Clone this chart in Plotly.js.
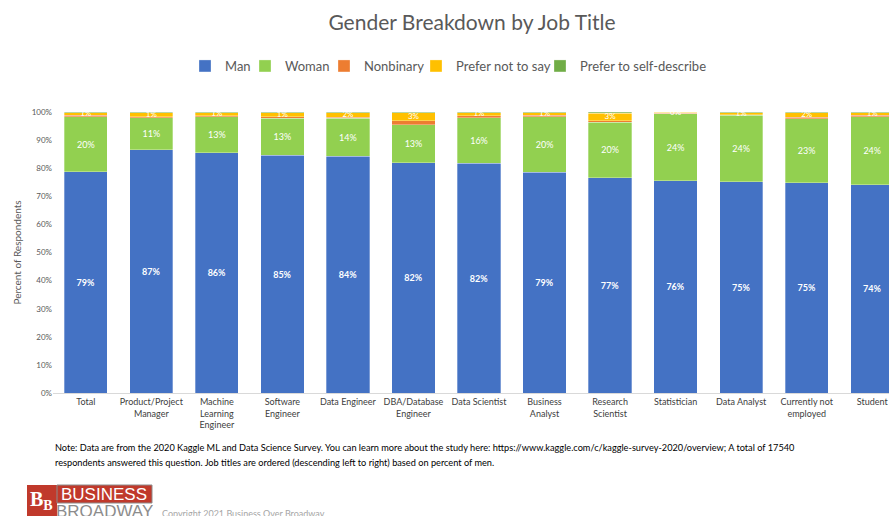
<!DOCTYPE html>
<html><head><meta charset="utf-8">
<script src="https://cdn.plot.ly/plotly-3.0.1.min.js"></script>
<style>html,body{margin:0;padding:0;overflow:hidden;background:#fff;width:889px;height:516px}</style>
</head><body>
<div id="chart"></div>
<script>
const categories = ["Total","Product/Project<br>Manager","Machine<br>Learning<br>Engineer","Software<br>Engineer","Data Engineer","DBA/Database<br>Engineer","Data Scientist","Business<br>Analyst","Research<br>Scientist","Statistician","Data Analyst","Currently not<br>employed","Student"];
const man        = [78.8, 86.6, 85.5, 84.6, 84.2, 82.0, 81.7, 78.6, 76.6, 75.6, 75.2, 74.8, 74.2];
const woman      = [19.5, 11.3, 12.8, 13.2, 13.6, 13.4, 16.3, 19.7, 19.8, 23.7, 23.6, 22.8, 24.1];
const nonbinary  = [0.5, 0.5, 0.4, 0.6, 0.3, 1.5, 0.6, 0.5, 0.5, 0.2, 0.3, 0.5, 0.5];
const preferNot  = [1.0, 1.3, 1.1, 1.3, 1.7, 2.8, 1.2, 1.0, 2.6, 0.4, 0.7, 1.6, 0.9];
const selfDesc   = [0.2, 0.3, 0.2, 0.3, 0.2, 0.3, 0.2, 0.2, 0.5, 0.1, 0.2, 0.3, 0.3];
const seriesNames = ["Man","Woman","Nonbinary","Prefer not to say","Prefer to self-describe"];
const colors = ["#4472C4","#92D050","#ED7D31","#FFC000","#70AD47"];
const legendWidths = [15, 34, 47, 79, 150];

const FONT = "Lato, 'Open Sans', sans-serif";
const pct = v => Math.round(v) + '%';
function bar(i, vals, showText, size){
  const name = seriesNames[i];
  const t = {
    type:'bar', name:name, x:categories, y:vals,
    marker:{color:colors[i], line:{color:'rgba(255,255,255,0.6)', width:0.5}},
    width:0.66, legendwidth:legendWidths[i],
    hoverinfo:'y+name'
  };
  if(showText){
    t.text = vals.map(pct);
    t.textposition = 'inside';
    t.insidetextanchor = 'middle';
    t.constraintext = 'none';
    t.textfont = {color:'#ffffff', size:size, family:FONT, weight: name==='Man'?'bold':'normal'};
  } else {
    t.textposition = 'none';
  }
  return t;
}
// label positions for the thin "Prefer not to say" segments: middle of that segment
const pntsMid = categories.map((c,i)=> man[i]+woman[i]+nonbinary[i]+preferNot[i]/2);
const data = [
  bar(0, man, true, 9),
  bar(1, woman, true, 9),
  bar(2, nonbinary, false),
  bar(3, preferNot, false),
  bar(4, selfDesc, false),
  {type:'scatter', mode:'text', x:categories, y:pntsMid, text:preferNot.map(pct), textposition:'middle center',
   textfont:{color:'#ffffff', size:8, family:FONT}, showlegend:false, hoverinfo:'skip', cliponaxis:false}
];
const layout = {
  width: 920, height: 516,
  margin:{l:53, r:15, t:112, b:123},
  barmode:'stack', bargap:0.34,
  paper_bgcolor:'#fff', plot_bgcolor:'#fff',
  font:{family:FONT, color:'#595959'},
  title:{text:'Gender Breakdown by Job Title', font:{size:21, color:'#595959', family:FONT}, x:472/920, xanchor:'center', y:0.957, yanchor:'middle', xref:'container', yref:'container'},
  showlegend:true,
  legend:{orientation:'h', x:(185-53)/852, xanchor:'left', y:1+(112-66)/281, yanchor:'middle', font:{size:13, color:'#595959', family:FONT}, itemwidth:30, traceorder:'normal', itemclick:false, tracegroupgap:0},
  xaxis:{type:'category', range:[-0.5,12.5], showline:true, linecolor:'#d9d9d9', linewidth:1, ticks:'', tickfont:{size:9, color:'#404040', family:FONT}, fixedrange:true},
  yaxis:{range:[0,100], dtick:10, ticksuffix:'%', showgrid:false, zeroline:false, showline:false, tickfont:{size:8, color:'#595959', family:FONT},
         title:{text:'Percent of Respondents', font:{size:10, color:'#595959', family:FONT}, standoff:8}, fixedrange:true},
  annotations:[
    {xref:'paper', yref:'paper', x:0, y:-(447-393)/281, xanchor:'left', yanchor:'middle', showarrow:false, align:'left',
     text:'Note: Data are from the 2020 Kaggle ML and Data Science Survey. You can learn more about the study here: https://www.kaggle.com/c/kaggle-survey-2020/overview; A total of 17540',
     font:{size:9.2, color:'#000', family:FONT}},
    {xref:'paper', yref:'paper', x:0, y:-(462-393)/281, xanchor:'left', yanchor:'middle', showarrow:false, align:'left',
     text:'respondents answered this question. Job titles are ordered (descending left to right) based on percent of men.',
     font:{size:9.2, color:'#000', family:FONT}},
    {xref:'paper', yref:'paper', x:-(53-41)/852, y:-(500-393)/281, xanchor:'center', yanchor:'middle', showarrow:false,
     text:'<b>B<sub>B</sub></b>', font:{size:20, color:'#fff', family:'Liberation Serif'}},
    {xref:'paper', yref:'paper', x:(104-53)/852, y:-(494-393)/281, xanchor:'center', yanchor:'middle', showarrow:false, height:16,
     text:'BUSINESS', font:{size:17, color:'#fff', family:'Liberation Sans Narrow, Liberation Sans'}},
    {xref:'paper', yref:'paper', x:(104-53)/852, y:-(511-393)/281, xanchor:'center', yanchor:'middle', showarrow:false, height:16,
     text:'BROADWAY', font:{size:17, color:'#8c8c8c', family:'Liberation Sans Narrow, Liberation Sans'}},
    {xref:'paper', yref:'paper', x:(160-53)/852, y:-(513-393)/281, xanchor:'left', yanchor:'middle', showarrow:false,
     text:'Copyright 2021 Business Over Broadway', font:{size:9, color:'#a6a6a6', family:FONT}}
  ],
  shapes:[
    {type:'rect', xref:'paper', yref:'paper', x0:-(53-27)/852, x1:(57-53)/852, y0:-(516-393)/281, y1:-(485-393)/281, fillcolor:'#c0392b', line:{width:0}},
    {type:'rect', xref:'paper', yref:'paper', x0:(57-53)/852, x1:(152-53)/852, y0:-(503-393)/281, y1:-(485-393)/281, fillcolor:'#c0392b', line:{color:'#8c8c8c', width:1}}
  ]
};
Plotly.newPlot('chart', data, layout, {displayModeBar:false, staticPlot:true});
</script>
</body></html>
